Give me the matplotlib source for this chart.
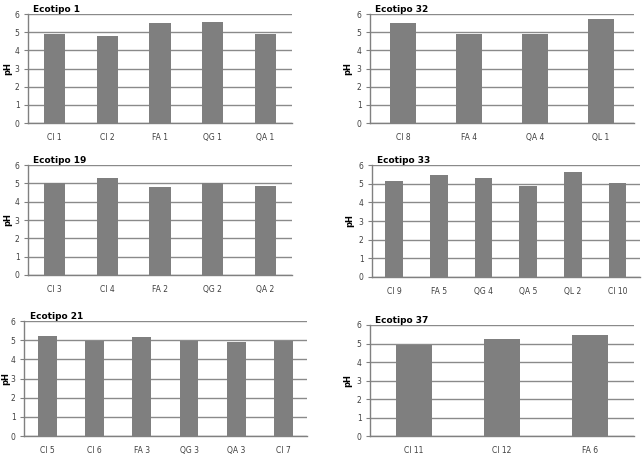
import matplotlib.pyplot as plt

titles = ["Ecotipo 1", "Ecotipo 32", "Ecotipo 19", "Ecotipo 33", "Ecotipo 21", "Ecotipo 37"]

cats_1 = ["CI 1", "CI 2", "FA 1", "QG 1", "QA 1"]
ph_1 = [4.88, 4.79, 5.48, 5.58, 4.92]

cats_32 = ["CI 8", "FA 4", "QA 4", "QL 1"]
ph_32 = [5.48, 4.92, 4.92, 5.70]

cats_19 = ["CI 3", "CI 4", "FA 2", "QG 2", "QA 2"]
ph_19 = [5.02, 5.31, 4.82, 5.02, 4.87]

cats_33 = ["CI 9", "FA 5", "QG 4", "QA 5", "QL 2", "CI 10"]
ph_33 = [5.16, 5.46, 5.28, 4.89, 5.62, 5.05]

cats_21 = ["CI 5", "CI 6", "FA 3", "QG 3", "QA 3", "CI 7"]
ph_21 = [5.22, 4.98, 5.18, 4.98, 4.90, 4.98]

cats_37 = ["CI 11", "CI 12", "FA 6"]
ph_37 = [4.94, 5.26, 5.48]

# axes boxes in figure fractions (left, bottom, width, height)
boxes = [
    (0.0435, 0.7314, 0.4105, 0.2380),
    (0.5755, 0.7314, 0.4105, 0.2380),
    (0.0435, 0.3996, 0.4105, 0.2401),
    (0.5785, 0.3952, 0.4165, 0.2445),
    (0.0373, 0.0480, 0.4401, 0.2510),
    (0.5755, 0.0480, 0.4105, 0.2424),
]
label_pads = [2, 3, 2, 3, 0.5, 3]

data = [(cats_1, ph_1), (cats_32, ph_32), (cats_19, ph_19),
        (cats_33, ph_33), (cats_21, ph_21), (cats_37, ph_37)]

fig = plt.figure(figsize=(6.43, 4.58), dpi=100)
fig.patch.set_facecolor("white")

for box, lp, title, (cats, vals) in zip(boxes, label_pads, titles, data):
    ax = fig.add_axes(box)
    x = range(len(cats))
    ax.bar(x, vals, width=0.4, color="#7f7f7f", zorder=3)
    ax.set_xlim(-0.5, len(cats) - 0.5)
    ax.set_ylim(0, 6)
    ax.set_yticks(range(7))
    ax.set_xticks(list(x))
    ax.set_xticklabels(cats)
    ax.tick_params(axis="x", length=0, labelsize=5.5, colors="#404040", pad=7)
    ax.tick_params(axis="y", length=3, labelsize=5.5, colors="#404040", pad=3)
    ax.tick_params(axis="y", color="#808080")
    ax.grid(axis="y", color="#8a8a8a", lw=1.0, zorder=0)
    for s in ["top", "right"]:
        ax.spines[s].set_visible(False)
    for s in ["left", "bottom"]:
        ax.spines[s].set_color("#808080")
        ax.spines[s].set_linewidth(1.0)
    ax.set_ylabel("pH", fontsize=6, fontweight="bold", labelpad=lp)
    ax.text(0.02, 1.0, title, transform=ax.transAxes, fontsize=6.5,
            fontweight="bold", ha="left", va="bottom")

plt.savefig("out.png", dpi=100)
